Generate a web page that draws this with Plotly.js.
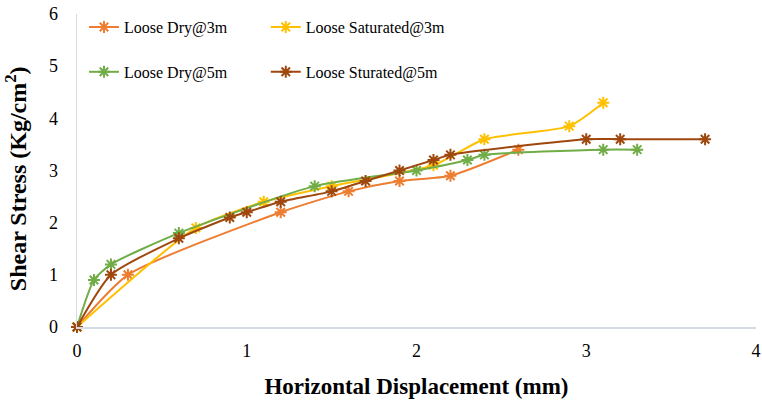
<!DOCTYPE html>
<html>
<head>
<meta charset="utf-8">
<script src="https://cdn.plot.ly/plotly-3.0.1.min.js"></script>
<style>
  html, body { margin: 0; padding: 0; background: #fff; }
  #chart { width: 762px; height: 404px; }
</style>
</head>
<body>
<div id="chart"></div>
<script>
// Shear stress (Kg/cm²) versus horizontal displacement (mm), loose sand tests
const seriesNames = ['Loose Dry@3m', 'Loose Saturated@3m', 'Loose Dry@5m', 'Loose Sturated@5m'];

const dry3X = [0, 0.3, 1.2, 1.6, 1.9, 2.2, 2.6];
const dry3Y = [0, 1.0, 2.2, 2.6, 2.8, 2.9, 3.4];

const sat3X = [0, 0.7, 1.1, 1.5, 2.1, 2.4, 2.9, 3.1];
const sat3Y = [0, 1.9, 2.4, 2.7, 3.1, 3.6, 3.85, 4.3];

const dry5X = [0, 0.1, 0.2, 0.6, 1.4, 2.0, 2.3, 2.4, 3.1, 3.3];
const dry5Y = [0, 0.9, 1.2, 1.8, 2.7, 3.0, 3.2, 3.3, 3.4, 3.4];

const sat5X = [0, 0.2, 0.6, 0.9, 1.0, 1.2, 1.5, 1.7, 1.9, 2.1, 2.2, 3.0, 3.2, 3.7];
const sat5Y = [0, 1.0, 1.7, 2.1, 2.2, 2.4, 2.6, 2.8, 3.0, 3.2, 3.3, 3.6, 3.6, 3.6];

const xTicks = [0, 1, 2, 3, 4];
const yTicks = [0, 1, 2, 3, 4, 5, 6];

const xTitle = '<b>Horizontal Displacement (mm)</b>';
const yTitle = '<b>Shear Stress (Kg/cm<sup>2</sup>)</b>';

const colors = ['#ED7D31', '#FFC000', '#70AD47', '#9E480E'];
const xs = [dry3X, sat3X, dry5X, sat5X];
const ys = [dry3Y, sat3Y, dry5Y, sat5Y];

// one single-entry legend per series, laid out as a 2 x 2 grid
const legendIds = ['legend', 'legend2', 'legend3', 'legend4'];
const legendX = [0.0103, 0.278, 0.0103, 0.278];
const legendY = [0.958, 0.958, 0.815, 0.815];

const traces = seriesNames.map((name, i) => ({
  type: 'scatter',
  mode: 'lines+markers',
  name: name,
  x: xs[i],
  y: ys[i],
  legend: legendIds[i],
  cliponaxis: false,
  line: { color: colors[i], width: 2, shape: 'spline', smoothing: 0.6 },
  marker: { symbol: 'asterisk-open', size: 10, color: colors[i], line: { color: colors[i], width: 2 } }
}));

const serif = 'Liberation Serif';
const axisColor = '#d5dce8';

const layout = {
  width: 762,
  height: 404,
  margin: { l: 77, r: 6, t: 14, b: 77 },
  paper_bgcolor: '#fff',
  plot_bgcolor: '#fff',
  font: { family: serif, color: '#000' },
  showlegend: true,
  xaxis: {
    range: [0, 4],
    tickvals: xTicks,
    ticktext: xTicks.map(String),
    showgrid: false,
    zeroline: false,
    showline: true,
    linecolor: axisColor,
    linewidth: 1.5,
    ticks: '',
    ticklabelstandoff: 7,
    tickfont: { family: serif, size: 18, color: '#000' },
    title: { text: xTitle, font: { family: serif, size: 23, color: '#000' }, standoff: 18 }
  },
  yaxis: {
    range: [0, 6],
    tickvals: yTicks,
    ticktext: yTicks.map(String),
    showgrid: false,
    zeroline: false,
    showline: true,
    linecolor: axisColor,
    linewidth: 1.5,
    ticks: '',
    ticklabelstandoff: 14,
    tickfont: { family: serif, size: 18, color: '#000' }
  },
  annotations: [{
    text: yTitle,
    textangle: -90,
    xref: 'paper', yref: 'paper',
    x: -0.09, y: 0.475,
    xanchor: 'center', yanchor: 'middle',
    showarrow: false,
    font: { family: serif, size: 24, color: '#000' }
  }]
};

legendIds.forEach((id, i) => {
  layout[id] = {
    orientation: 'h',
    xref: 'paper', yref: 'paper',
    xanchor: 'left', yanchor: 'middle',
    x: legendX[i],
    y: legendY[i],
    bgcolor: 'rgba(0,0,0,0)',
    font: { family: serif, size: 16, color: '#000' },
    itemwidth: 30
  };
});

Plotly.newPlot('chart', traces, layout, { displayModeBar: false, staticPlot: true });
</script>
</body>
</html>
